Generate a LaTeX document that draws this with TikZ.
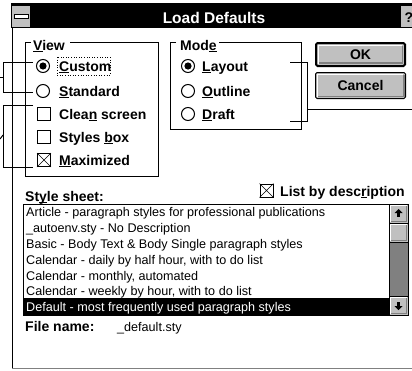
\documentclass[tikz,border=0pt]{standalone}
\usepackage{fontspec}
\setmainfont{Liberation Sans}
\definecolor{wgray}{HTML}{C0C0C0}
\definecolor{wdark}{HTML}{808080}
\newcommand{\uln}[1]{\setbox0\hbox{#1}\rlap{\rule[-1.9pt]{\wd0}{1pt}}#1}
\begin{document}
\begin{tikzpicture}[x=1pt,y=-1pt,
  lbl/.style={font=\bfseries\fontsize{14}{16}\selectfont, anchor=base west, inner sep=0pt},
  itm/.style={font=\fontsize{12.6}{15}\selectfont, anchor=base west, inner sep=0pt},
  radio/.style={circle, draw, minimum size=13pt, inner sep=0pt, line width=1pt},
  chk/.style={rectangle, draw, minimum size=13pt, inner sep=0pt, line width=1pt},
  grp/.style={line width=1pt},
  brk/.style={line width=1pt},
  hl/.style={white, line width=1.5pt},
  sh/.style={wdark, line width=1.5pt}]
\useasboundingbox (0,0) rectangle (412,370);
\fill[white] (0,0) rectangle (412,370);

% title bar
\fill[black] (11,3) rectangle (412,28);
\fill[wgray] (12,6) rectangle (30,27);
\draw[fill=white, line width=0.8pt] (14,14.5) rectangle (28,18);
\fill[wgray] (401,6) rectangle (412,27);
\node[font=\bfseries\fontsize{14}{16}\selectfont, anchor=base, inner sep=0pt] (qm) at (409,22) {?};
\node[font=\bfseries\fontsize{15.5}{18}\selectfont, text=white, anchor=base, inner sep=0pt] (title) at (214,23.5) {Load Defaults};

% window border
\draw[line width=1pt] (12,28) -- (12,368.5);
\draw[wdark, line width=1pt] (12,368.5) -- (412,368.5);

% View group
\draw[grp] (31,42) -- (25,42) -- (25,176) -- (158,176) -- (158,42) -- (70,42);
\node[lbl] (vlab) at (33,50) {\uln{V}iew};
\node[radio] (rcus) at (43,66) {};
\fill (rcus.center) circle (3.6);
\node[lbl] (tcus) at (59,71.5) {\uln{C}ustom};
\draw[dotted, line width=0.6pt] (57,57) rectangle (110,75);
\node[radio] (rstd) at (43,91) {};
\node[lbl] (tstd) at (59,96) {\uln{S}tandard};
\node[chk] (ccln) at (44,114) {};
\node[lbl] (tcln) at (59,119.5) {Clea\uln{n} screen};
\node[chk] (csty) at (44,137) {};
\node[lbl] (tsty) at (59,142.5) {Styles \uln{b}ox};
\node[chk] (cmax) at (44,160) {};
\draw[line width=0.6pt] (cmax.north west) -- (cmax.south east) (cmax.north east) -- (cmax.south west);
\node[lbl] (tmax) at (59,165.5) {\uln{M}aximized};

% Mode group
\draw[grp] (176,42) -- (170,42) -- (170,129) -- (301,129) -- (301,42) -- (219,42);
\node[lbl] (mlab) at (180,50) {Mod\uln{e}};
\node[radio] (rlay) at (188,66) {};
\fill (rlay.center) circle (3.6);
\node[lbl] (tlay) at (202,71.5) {\uln{L}ayout};
\node[radio] (rout) at (188,91) {};
\node[lbl] (tout) at (202,96) {\uln{O}utline};
\node[radio] (rdra) at (188,114) {};
\node[lbl] (tdra) at (202,119.5) {\uln{D}raft};

% brackets
\coordinate (b1a) at (33,62); \coordinate (b1b) at (3,62);
\coordinate (b1c) at (3,92);  \coordinate (b1d) at (33,92);
\draw[brk] (b1a) -- (b1b) -- (b1c) -- (b1d);
\draw[brk] (3,77) -- (0,77);
\coordinate (b2a) at (33,105); \coordinate (b2b) at (3,105);
\coordinate (b2c) at (3,167);  \coordinate (b2d) at (33,167);
\draw[brk] (b2a) -- (b2b) -- (b2c) -- (b2d);
\draw[brk] (0,139) -- (3,135);
\coordinate (b3a) at (290,62); \coordinate (b3b) at (307,62);
\coordinate (b3c) at (307,121); \coordinate (b3d) at (290,121);
\draw[brk] (b3a) -- (b3b) -- (b3c) -- (b3d);
\coordinate (b3e) at (307,109); \coordinate (b3f) at (412,109);
\draw[brk] (b3e) -- (b3f);

% OK button
\draw[fill=wgray, line width=2pt, rounded corners=1.5pt] (316,43) rectangle (405,66);
\draw[hl] (318.5,64) -- (318.5,45.5) -- (402,45.5);
\draw[sh] (319,63.2) -- (402.5,63.2) -- (402.5,46);
\node[font=\bfseries\fontsize{14}{16}\selectfont, inner sep=0pt] (ok) at (360.5,54.5) {OK};
% Cancel button
\draw[fill=wgray, line width=1pt, rounded corners=1.5pt] (315.5,72.5) rectangle (405.5,98.5);
\draw[hl] (317.5,97) -- (317.5,74.5) -- (403,74.5);
\draw[sh] (318,96.5) -- (404,96.5) -- (404,75);
\node[font=\bfseries\fontsize{14}{16}\selectfont, inner sep=0pt] (cancel) at (360.5,85.5) {Cancel};

% Style sheet
\node[lbl] (ssl) at (25,201) {St\uln{y}le sheet:};
\node[chk] (clst) at (266.5,190.5) {};
\draw[line width=0.6pt] (clst.north west) -- (clst.south east) (clst.north east) -- (clst.south west);
\node[lbl] (tlst) at (280,196) {List by desc\uln{r}iption};

% list box
\fill[black] (23,297.5) rectangle (389,315);
\draw[line width=1pt] (23,204) rectangle (408,315);
\node[itm] (i1) at (26,216.5) {Article - paragraph styles for professional publications};
\node[itm] (i2) at (26,232.4) {\_autoenv.sty - No Description};
\node[itm] (i3) at (26,248.2) {Basic - Body Text \& Body Single paragraph styles};
\node[itm] (i4) at (26,264.1) {Calendar - daily by half hour, with to do list};
\node[itm] (i5) at (26,280) {Calendar - monthly, automated};
\node[itm] (i6) at (26,295.8) {Calendar - weekly by hour, with to do list};
\node[itm, text=white] (i7) at (26,311.5) {Default - most frequently used paragraph styles};

% scrollbar
\fill[wdark] (389,242) rectangle (408,296);
\draw[fill=wgray, line width=1pt] (389,204) rectangle (408,223);
\draw[hl, line width=1pt] (390.5,221.5) -- (390.5,205.5) -- (406.5,205.5);
\draw[sh, line width=1pt] (391,221.5) -- (406.5,221.5) -- (406.5,206);
\fill[black] (394.5,213) -- (398.5,209) -- (402.5,213) -- cycle;
\fill[black] (397.3,213) rectangle (399.7,217);
\draw[fill=wgray, line width=1pt] (389,223) rectangle (408,242);
\draw[hl, line width=1pt] (390.5,240.5) -- (390.5,224.5) -- (406.5,224.5);
\draw[sh, line width=1pt] (391,240.5) -- (406.5,240.5) -- (406.5,225);
\draw[fill=wgray, line width=1pt] (389,296) rectangle (408,315);
\draw[hl, line width=1pt] (390.5,313.5) -- (390.5,297.5) -- (406.5,297.5);
\draw[sh, line width=1pt] (391,313.5) -- (406.5,313.5) -- (406.5,298);
\fill[black] (394.5,306) -- (398.5,310) -- (402.5,306) -- cycle;
\fill[black] (397.3,302) rectangle (399.7,306);
\draw[line width=1pt] (389,204) -- (389,315);

% file name
\node[lbl] (fn) at (25,331) {File name:};
\node[itm] (fnv) at (117,331) {\_default.sty};
\end{tikzpicture}
\end{document}
